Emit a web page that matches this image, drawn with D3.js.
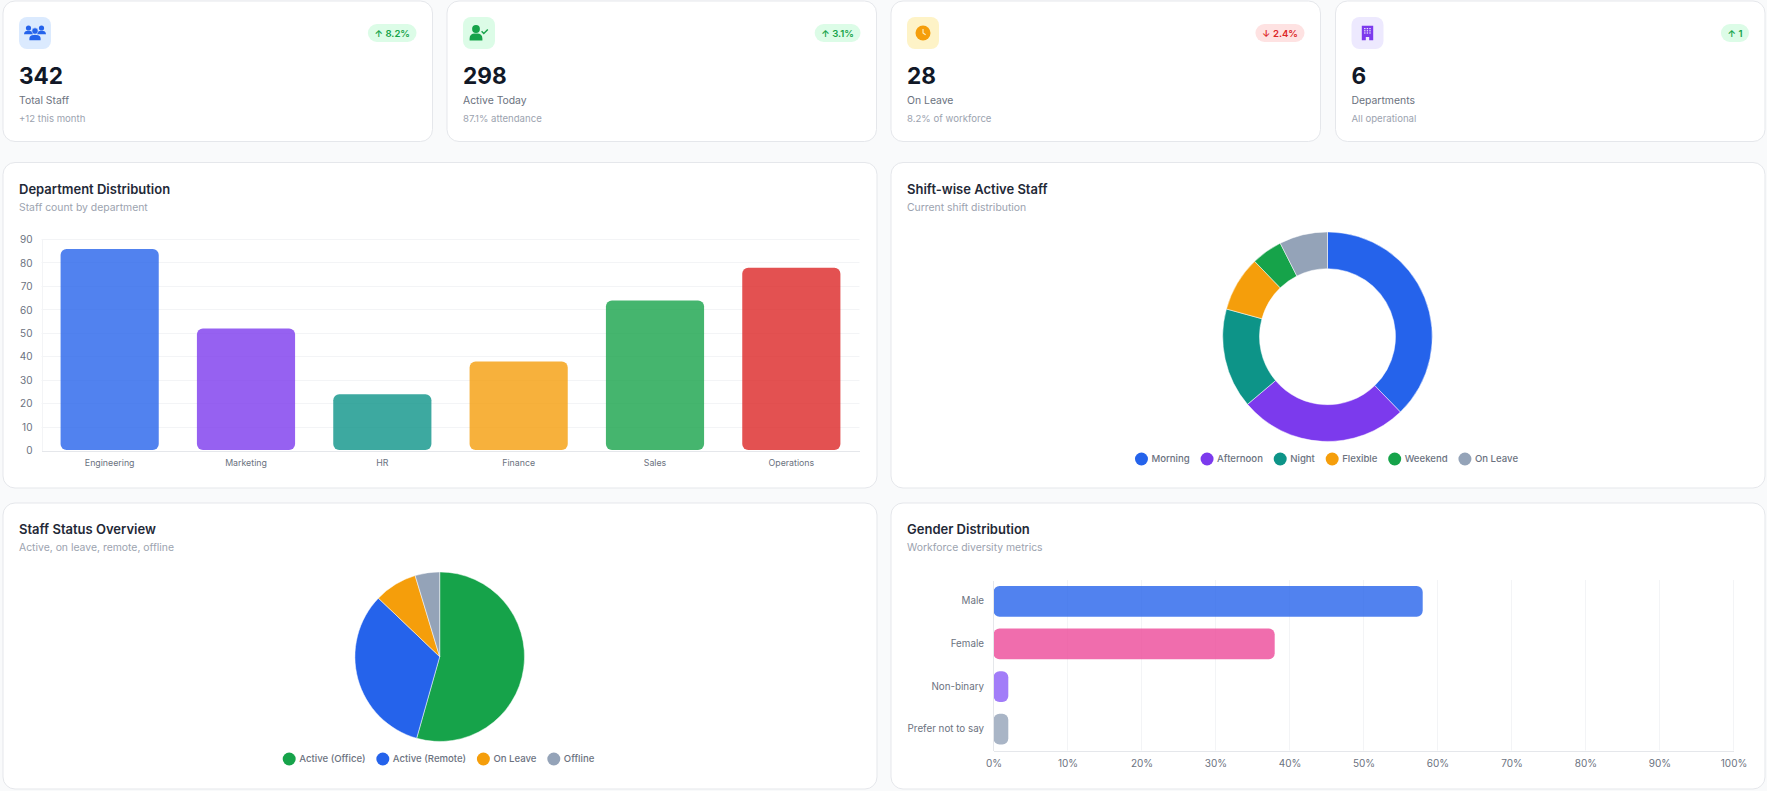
<!DOCTYPE html>
<html lang="en">
<head>
<meta charset="utf-8">
<title>Staff Dashboard</title>
<script src="https://cdn.jsdelivr.net/npm/d3@7/dist/d3.min.js"></script>
<style>
  html, body { margin: 0; padding: 0; background: #f9fafb; }
  svg { display: block; font-family: Inter, "Noto Sans", sans-serif; }
  .axis path, .axis line { shape-rendering: crispEdges; }
</style>
</head>
<body>
<svg id="board" width="1767" height="791"></svg>
<script>
// KPI row
const kpiValues = ["342", "298", "28", "6"];
const kpiLabels = ["Total Staff", "Active Today", "On Leave", "Departments"];
const kpiNotes = ["+12 this month", "87.1% attendance", "8.2% of workforce", "All operational"];
const kpiDeltas = ["8.2%", "3.1%", "2.4%", "1"];
const kpiDirections = ["up", "up", "down", "up"];
const kpiIcons = ["users", "userCheck", "clock", "building"];
const kpiIconColors = ["#2563eb", "#16a34a", "#f59e0b", "#7c3aed"];
const kpiIconBacks = ["#dbeafe", "#dcfce7", "#fef3c7", "#ede9fe"];

// Department bars
const departments = ["Engineering", "Marketing", "HR", "Finance", "Sales", "Operations"];
const departmentCounts = [86, 52, 24, 38, 64, 78];
const departmentColors = ["#2563eb", "#7c3aed", "#0d9488", "#f59e0b", "#16a34a", "#dc2626"];
const departmentTicks = [0, 10, 20, 30, 40, 50, 60, 70, 80, 90];

// Shift donut
const shifts = ["Morning", "Afternoon", "Night", "Flexible", "Weekend", "On Leave"];
const shiftCounts = [142, 98, 58, 32, 18, 28];
const shiftColors = ["#2563eb", "#7c3aed", "#0d9488", "#f59e0b", "#16a34a", "#94a3b8"];

// Status pie
const statuses = ["Active (Office)", "Active (Remote)", "On Leave", "Offline"];
const statusCounts = [186, 112, 28, 16];
const statusColors = ["#16a34a", "#2563eb", "#f59e0b", "#94a3b8"];

// Gender bars
const genders = ["Male", "Female", "Non-binary", "Prefer not to say"];
const genderShares = [58, 38, 2, 2];
const genderColors = ["#2563eb", "#ec4899", "#8b5cf6", "#94a3b8"];
const genderTicks = [0, 10, 20, 30, 40, 50, 60, 70, 80, 90, 100];

const svg = d3.select("#board");
const INK = "#111827", TITLE = "#1f2937", MUTED = "#6b7280", FAINT = "#9ca3af", GRID = "#f3f4f6", EDGE = "#e5e7eb";

function card(x, y, w, h) {
  svg.append("rect").attr("x", x).attr("y", y).attr("width", w).attr("height", h)
    .attr("rx", 12).attr("fill", "#fff").attr("stroke", EDGE);
}

function label(g, x, y, str, size, fill, weight, anchor) {
  return g.append("text").attr("x", x).attr("y", y).text(str)
    .attr("font-size", size).attr("fill", fill)
    .attr("font-weight", weight || 400).attr("text-anchor", anchor || "start");
}

// Small pictograms for the KPI tiles, centred on the origin
const iconPainters = {
  users(g, c) {
    g.attr("fill", c);
    [[-6.5, -5], [6.5, -5]].forEach(([x, y]) => {
      g.append("circle").attr("cx", x).attr("cy", y).attr("r", 2.6);
      g.append("path").attr("d", `M${x - 4.5} 1.2 a4.5 3.4 0 0 1 9 0 z`);
    });
    g.append("circle").attr("cx", 0).attr("cy", -2).attr("r", 3.2).attr("stroke", kpiIconBacks[0]).attr("stroke-width", .6);
    g.append("path").attr("d", "M-5.6 7.2 v-1.6 a4.2 3.6 0 0 1 4.2 -3.6 h2.8 a4.2 3.6 0 0 1 4.2 3.6 v1.6 z");
  },
  userCheck(g, c) {
    g.attr("fill", c);
    g.append("circle").attr("cx", -3).attr("cy", -4).attr("r", 3.9);
    g.append("path").attr("d", "M-9.4 7.4 v-2 a5 5 0 0 1 5 -5 h2.8 a5 5 0 0 1 5 5 v2 z");
    g.append("path").attr("d", "M2.6 -1.8 l2.2 2.2 l4 -4").attr("fill", "none").attr("stroke", c).attr("stroke-width", 1.4);
  },
  clock(g, c) {
    g.append("circle").attr("r", 7.5).attr("fill", c);
    g.append("path").attr("d", "M0 -4 V0 L2.6 1.8").attr("fill", "none").attr("stroke", "#fef3c7").attr("stroke-width", 1.1);
  },
  building(g, c) {
    g.append("path").attr("fill", c)
      .attr("d", "M-5.7 -7.3 h11.4 v14.6 h-4 v-3.4 h-3.4 v3.4 h-4 z");
    const panes = g.append("g").attr("fill", "#ede9fe");
    [-3.4, -0.8, 1.8].forEach(x => [-5, -2.8, -0.6].forEach(y => {
      panes.append("rect").attr("x", x).attr("y", y).attr("width", 1.4).attr("height", 1.2);
    }));
  }
};

// KPI cards
const kpiLefts = [3, 447, 891, 1335.5];
const kpiWidth = 429.5;
kpiValues.forEach((value, i) => {
  const x0 = kpiLefts[i];
  card(x0, 1, kpiWidth, 140.5);
  const g = svg.append("g");
  g.append("rect").attr("x", x0 + 16).attr("y", 17).attr("width", 32).attr("height", 32)
    .attr("rx", 8).attr("fill", kpiIconBacks[i]);
  iconPainters[kpiIcons[i]](g.append("g").attr("transform", `translate(${x0 + 32},33)`), kpiIconColors[i]);

  label(g, x0 + 16, 84, value, 22.6, INK, 700);
  label(g, x0 + 16, 104, kpiLabels[i], 10.4, MUTED);
  label(g, x0 + 16, 121.5, kpiNotes[i], 9.6, FAINT);

  // Delta pill: sized from the measured text, right aligned in the card
  const up = kpiDirections[i] === "up";
  const ink = up ? "#16a34a" : "#dc2626";
  const pill = g.append("g");
  const bg = pill.append("rect").attr("y", 24).attr("height", 18).attr("rx", 9).attr("fill", up ? "#dcfce7" : "#fee2e2");
  const delta = label(pill, 0, 36.7, kpiDeltas[i], 9.6, ink, 600);
  const arrow = label(pill, 0, 36.7, up ? "↑" : "↓", 9.6, ink, 600);
  const right = x0 + kpiWidth - 16;
  const w = delta.node().getComputedTextLength();
  const left = right - (6.5 + 10 + 1 + w + 6.5);
  bg.attr("x", left).attr("width", right - left);
  arrow.attr("x", left + 6.5);
  delta.attr("x", right - 6.5 - w);
});

function panelHeading(x0, y0, title, sub) {
  label(svg, x0 + 16, y0 + 32, title, 13, TITLE, 600);
  label(svg, x0 + 16, y0 + 49, sub, 10.4, FAINT);
}

// Shared legend: coloured dots with labels, centred on cx
function legend(cx, y, names, colors) {
  const g = svg.append("g");
  const items = names.map((n, i) => {
    const it = g.append("g");
    it.append("circle").attr("r", 6.5).attr("fill", colors[i]).attr("cy", y);
    const t = label(it, 10, y + 3.3, n, 9.6, MUTED, 500);
    return { it, w: 10 + t.node().getComputedTextLength() };
  });
  const gap = 17.3;
  const total = d3.sum(items, d => d.w) + gap * (items.length - 1) + 6.5;
  let x = cx - total / 2 + 6.5;
  items.forEach(d => { d.it.attr("transform", `translate(${x},0)`); x += d.w + gap; });
}

function styleAxis(g, lineColor) {
  g.attr("class", "axis").attr("font-family", null);
  g.select(".domain").attr("stroke", lineColor);
  g.selectAll(".tick line").remove();
}

// Department distribution
card(3, 162.5, 874, 325.5);
panelHeading(3, 162, "Department Distribution", "Staff count by department");
{
  const x = d3.scaleBand().domain(departments).range([41.5, 859.5]).paddingInner(0.28).paddingOuter(0.14);
  const y = d3.scaleLinear().domain([0, 90]).range([450.5, 239.5]);

  svg.append("g").selectAll("line").data(departmentTicks.slice(1)).join("line")
    .attr("x1", 41.5).attr("x2", 859.5).attr("y1", d => Math.floor(y(d)) + .5).attr("y2", d => Math.floor(y(d)) + .5)
    .attr("stroke", GRID);

  svg.append("g").selectAll("rect").data(departments).join("rect")
    .attr("x", d => x(d)).attr("width", x.bandwidth())
    .attr("y", (d, i) => y(departmentCounts[i]))
    .attr("height", (d, i) => y(0) - y(departmentCounts[i]) - .5)
    .attr("rx", 6).attr("fill", (d, i) => departmentColors[i]).attr("fill-opacity", .8);

  const ay = svg.append("g").attr("transform", "translate(41.5,0)")
    .call(d3.axisLeft(y).tickValues(departmentTicks).tickSize(0).tickPadding(9));
  styleAxis(ay, GRID);
  ay.selectAll("text").attr("font-size", 10).attr("fill", MUTED);

  const ax = svg.append("g").attr("transform", "translate(0,450.5)")
    .call(d3.axisBottom(x).tickSize(0).tickPadding(9));
  styleAxis(ax, EDGE);
  ax.selectAll("text").attr("font-size", 8.8).attr("fill", MUTED);
}

// Shift-wise donut
card(891, 162.5, 874, 325.5);
panelHeading(891, 162, "Shift-wise Active Staff", "Current shift distribution");
{
  const arcs = d3.pie().sort(null)(shiftCounts);
  const arc = d3.arc().innerRadius(68).outerRadius(104.8);
  svg.append("g").attr("transform", "translate(1327.5,336.7)")
    .selectAll("path").data(arcs).join("path")
    .attr("d", arc).attr("fill", (d, i) => shiftColors[i])
    .attr("stroke", "#fff").attr("stroke-width", .5);
  legend(1326.5, 459, shifts, shiftColors);
}

// Staff status pie
card(3, 503, 874, 286);
panelHeading(3, 502, "Staff Status Overview", "Active, on leave, remote, offline");
{
  const arcs = d3.pie().sort(null)(statusCounts);
  const arc = d3.arc().innerRadius(0).outerRadius(84.8);
  svg.append("g").attr("transform", "translate(439.7,656.7)")
    .selectAll("path").data(arcs).join("path")
    .attr("d", arc).attr("fill", (d, i) => statusColors[i])
    .attr("stroke", "#fff").attr("stroke-width", .5);
  legend(438.5, 759, statuses, statusColors);
}

// Gender distribution
card(891, 503, 874, 286);
panelHeading(891, 502, "Gender Distribution", "Workforce diversity metrics");
{
  const x = d3.scaleLinear().domain([0, 100]).range([993.5, 1733.5]);
  const y = d3.scaleBand().domain(genders).range([580, 750.5]).paddingInner(0.28).paddingOuter(0.14);

  svg.append("g").selectAll("line").data(genderTicks.slice(1)).join("line")
    .attr("x1", d => Math.floor(x(d)) + .5).attr("x2", d => Math.floor(x(d)) + .5)
    .attr("y1", 580).attr("y2", 750.5).attr("stroke", GRID);

  svg.append("g").selectAll("rect").data(genders).join("rect")
    .attr("x", x(0)).attr("y", d => y(d))
    .attr("width", (d, i) => x(genderShares[i]) - x(0)).attr("height", y.bandwidth())
    .attr("rx", 6).attr("fill", (d, i) => genderColors[i]).attr("fill-opacity", .8);

  const ay = svg.append("g").attr("transform", "translate(993,0)")
    .call(d3.axisLeft(y).tickSize(0).tickPadding(9));
  styleAxis(ay, EDGE);
  ay.selectAll("text").attr("font-size", 9.8).attr("fill", MUTED);

  const ax = svg.append("g").attr("transform", "translate(0,750.5)")
    .call(d3.axisBottom(x).tickValues(genderTicks).tickFormat(d => d + "%").tickSize(0).tickPadding(9));
  styleAxis(ax, EDGE);
  ax.selectAll("text").attr("font-size", 10).attr("fill", MUTED);
}
</script>
</body>
</html>
